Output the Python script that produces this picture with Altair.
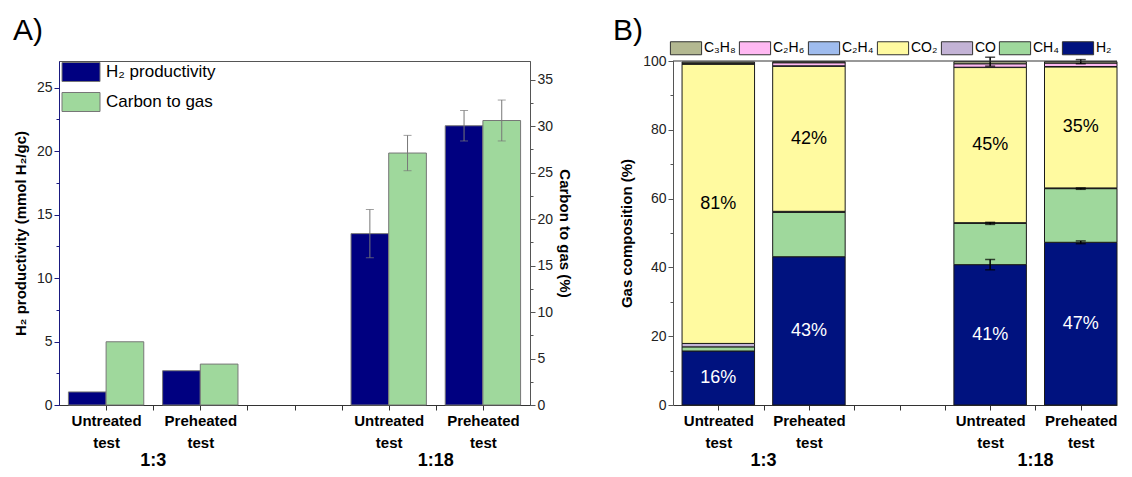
import json
import altair as alt
import pandas as pd

FONT = "Liberation Sans"

# ---------------- data ----------------
group_order = ["1:3", "1:18"]
samples = ["Untreated test", "Preheated test", "Untreated test", "Preheated test"]
groups = ["1:3", "1:3", "1:18", "1:18"]

# Panel A
series_names = ["H₂ productivity", "Carbon to gas"]
h2_prod = [1.03, 2.7, 13.5, 22.0]
h2_prod_err = [0.0, 0.0, 1.9, 1.2]
carbon_gas = [6.8, 4.4, 27.1, 30.6]
carbon_gas_err = [0.0, 0.0, 1.9, 2.2]

# Panel B (gas composition, %, bottom -> top)
gas_names = ["H₂", "CH₄", "CO", "CO₂", "C₂H₄", "C₂H₆", "C₃H₈"]
gas_h2 = [15.7, 43.1, 40.8, 47.3]
gas_ch4 = [1.2, 12.9, 12.0, 15.6]
gas_co = [1.0, 0.3, 0.2, 0.2]
gas_co2 = [81.2, 42.2, 45.1, 35.2]
gas_c2h4 = [0.1, 0.1, 0.1, 0.1]
gas_c2h6 = [0.2, 0.9, 1.0, 1.0]
gas_c3h8 = [0.3, 0.3, 0.6, 0.4]
err_h2 = [0.0, 0.0, 1.5, 0.4]
err_ch4 = [0.0, 0.0, 0.3, 0.2]
err_total = [0.0, 0.0, 1.3, 0.6]

gas_colors = {
    "H₂": "#00127f", "CH₄": "#9fd89c", "CO": "#c3b3d6", "CO₂": "#fffaa0",
    "C₂H₄": "#9fbcee", "C₂H₆": "#ffb8f2", "C₃H₈": "#b3b891",
}

# slot on the x axis (an empty slot separates the two ratio groups)
slots = [i + 1 + group_order.index(g) for i, g in enumerate(groups)]

# ---------------- frames ----------------
dfA = pd.DataFrame({
    "sample": samples, "group": groups, "slot": slots,
    "h2": h2_prod, "h2_err": h2_prod_err,
    "cg": carbon_gas, "cg_err": carbon_gas_err,
})

gas_values = [gas_h2, gas_ch4, gas_co, gas_co2, gas_c2h4, gas_c2h6, gas_c3h8]
rowsB = []
for i, s in enumerate(samples):
    for k, g in enumerate(gas_names):
        rowsB.append({"sample": s, "group": groups[i], "slot": slots[i],
                      "gas": g, "ord": k, "value": gas_values[k][i]})
dfB = pd.DataFrame(rowsB)

rowsE = []
for i in range(len(samples)):
    levels = [gas_h2[i], gas_h2[i] + gas_ch4[i],
              sum(gas_values[k][i] for k in range(len(gas_names)))]
    for lev, e in zip(levels, [err_h2[i], err_ch4[i], err_total[i]]):
        if e > 0:
            rowsE.append({"slot": slots[i], "lo": lev - e, "hi": lev + e})
dfE = pd.DataFrame(rowsE)

# ---------------- shared axis helpers ----------------
def label_expr():
    parts = []
    for s, p in zip(samples, slots):
        parts.append(f"datum.value == {p} ? {json.dumps(s.split(' '))}")
    return " : ".join(parts) + " : ''"

tick_vals = [1, 1.5, 2, 2.5, 3, 3.5, 4, 4.5, 5]

def x_axis():
    return alt.Axis(values=tick_vals, labelExpr=label_expr(), title=None, grid=False,
                    labelFont=FONT, labelFontSize=15, labelFontWeight="bold",
                    labelColor="#000", labelLineHeight=22, labelPadding=3,
                    tickSize=5, tickColor="#333", domainColor="#333",
                    labelOverlap=False, labelFlush=False)

H = 344
WA = 471
WB = 444

# ---------------- Panel A ----------------
xA = alt.Scale(domain=[0.5, 5.5], nice=False, zero=False)
yL = alt.Scale(domain=[0, 27.1], nice=False)
yR = alt.Scale(domain=[0, 37], nice=False)

left_axis = alt.Axis(title="H₂ productivity (mmol H₂/gᴄ)", values=[x * 2.5 for x in range(11)],
                     labelExpr="datum.value % 5 == 0 ? datum.label : ''",
                     tickSize={"condition": {"test": "datum.value % 5 == 0", "value": 5}, "value": 3},
                     grid=False, domainColor="#1a1a80", tickColor="#1a1a80",
                     labelFont=FONT, labelFontSize=14, labelColor="#222",
                     titleFont=FONT, titleFontSize=15, titleFontWeight="bold", titleColor="#000",
                     titlePadding=8)
right_axis = alt.Axis(title="Carbon to gas (%)", orient="right", values=[x * 2.5 for x in range(15)],
                      labelExpr="datum.value % 5 == 0 ? datum.label : ''",
                      tickSize={"condition": {"test": "datum.value % 5 == 0", "value": 5}, "value": 3},
                      grid=False, domainColor="#555", tickColor="#555",
                      labelFont=FONT, labelFontSize=14, labelColor="#222",
                      titleFont=FONT, titleFontSize=15, titleFontWeight="bold", titleColor="#000",
                      titlePadding=4)

colorA = alt.Scale(domain=series_names, range=["#000080", "#9fd89c"])
legendA = alt.Legend(title=None, orient="none", legendX=12, legendY=1,
                     symbolType="M-2,-1H2V1H-2Z", symbolSize=361,
                     symbolStrokeColor="#777", symbolStrokeWidth=1, symbolOpacity=1,
                     labelFont=FONT, labelFontSize=17, labelColor="#000",
                     labelOffset=15, rowPadding=6)

baseA = alt.Chart(dfA)
xenc = lambda f: alt.X(f, scale=xA, axis=x_axis())

bar_h2 = baseA.transform_calculate(
    x1="datum.slot - 0.4", x2="datum.slot", series=f"'{series_names[0]}'"
).mark_bar(stroke="#777", strokeWidth=1).encode(
    x=xenc("x1:Q"), x2="x2:Q",
    y=alt.Y("h2:Q", scale=yL, axis=left_axis), y2=alt.datum(0),
    color=alt.Color("series:N", scale=colorA, legend=legendA),
)
err_h2_a = baseA.transform_filter("datum.h2_err > 0").transform_calculate(
    xc="datum.slot - 0.2", lo="datum.h2 - datum.h2_err", hi="datum.h2 + datum.h2_err")
err_h2_rule = err_h2_a.mark_rule(color="#777", strokeWidth=1).encode(
    x=xenc("xc:Q"), y=alt.Y("lo:Q", scale=yL, axis=left_axis), y2="hi:Q")
err_h2_cap1 = err_h2_a.mark_tick(orient="horizontal", size=8, thickness=1, color="#777").encode(
    x=xenc("xc:Q"), y=alt.Y("lo:Q", scale=yL, axis=left_axis))
err_h2_cap2 = err_h2_a.mark_tick(orient="horizontal", size=8, thickness=1, color="#777").encode(
    x=xenc("xc:Q"), y=alt.Y("hi:Q", scale=yL, axis=left_axis))

group_text = baseA.transform_aggregate(center="mean(slot)", groupby=["group"]).mark_text(
    font=FONT, fontSize=18, fontWeight="bold", color="#000", baseline="alphabetic"
).encode(x=xenc("center:Q"), y=alt.value(H + 61), text="group:N")

title_A = baseA.transform_aggregate(n="count()").mark_text(
    font=FONT, fontSize=30, align="left", baseline="alphabetic", color="#000"
).encode(x=alt.value(-46), y=alt.value(-21), text=alt.value("A)"))

left_layer = alt.layer(bar_h2, err_h2_rule, err_h2_cap1, err_h2_cap2, group_text, title_A)

bar_cg = baseA.transform_calculate(
    x1="datum.slot", x2="datum.slot + 0.4", series=f"'{series_names[1]}'"
).mark_bar(stroke="#777", strokeWidth=1).encode(
    x=xenc("x1:Q"), x2="x2:Q",
    y=alt.Y("cg:Q", scale=yR, axis=right_axis), y2=alt.datum(0),
    color=alt.Color("series:N", scale=colorA, legend=legendA),
)
err_cg_a = baseA.transform_filter("datum.cg_err > 0").transform_calculate(
    xc="datum.slot + 0.2", lo="datum.cg - datum.cg_err", hi="datum.cg + datum.cg_err")
err_cg_rule = err_cg_a.mark_rule(color="#777", strokeWidth=1).encode(
    x=xenc("xc:Q"), y=alt.Y("lo:Q", scale=yR, axis=right_axis), y2="hi:Q")
err_cg_cap1 = err_cg_a.mark_tick(orient="horizontal", size=8, thickness=1, color="#777").encode(
    x=xenc("xc:Q"), y=alt.Y("lo:Q", scale=yR, axis=right_axis))
err_cg_cap2 = err_cg_a.mark_tick(orient="horizontal", size=8, thickness=1, color="#777").encode(
    x=xenc("xc:Q"), y=alt.Y("hi:Q", scale=yR, axis=right_axis))

right_layer = alt.layer(bar_cg, err_cg_rule, err_cg_cap1, err_cg_cap2)

panelA = alt.layer(left_layer, right_layer).resolve_scale(y="independent").properties(
    width=WA, height=H, view=alt.ViewBackground(stroke="#555", strokeWidth=1))

# ---------------- Panel B ----------------
xB = alt.Scale(domain=[0.5, 5.4], nice=False, zero=False)
yB = alt.Scale(domain=[0, 100], nice=False)
xencB = lambda f: alt.X(f, scale=xB, axis=x_axis())
yaxB = alt.Axis(title="Gas composition (%)", values=list(range(0, 101, 10)),
                labelExpr="datum.value % 20 == 0 ? datum.label : ''",
                tickSize={"condition": {"test": "datum.value % 20 == 0", "value": 5}, "value": 3},
                grid=False, domainColor="#555", tickColor="#555",
                labelFont=FONT, labelFontSize=14, labelColor="#222",
                titleFont=FONT, titleFontSize=15, titleFontWeight="bold", titleColor="#000",
                titlePadding=8)

legend_order = gas_names[::-1]
colorB = alt.Scale(domain=legend_order, range=[gas_colors[g] for g in legend_order])
legendB = alt.Legend(title=None, orient="none", legendX=6, legendY=-20, direction="horizontal",
                     columns=7, symbolType="M-2.4,-1H2.4V1H-2.4Z", symbolSize=169,
                     symbolStrokeColor="#333", symbolStrokeWidth=1, symbolOpacity=1,
                     labelFont=FONT, labelFontSize=14, labelColor="#000",
                     labelOffset=11, columnPadding=1)

stacked = alt.Chart(dfB).transform_stack(
    stack="value", groupby=["slot"], as_=["y0", "y1"],
    sort=[alt.SortField("ord", order="ascending")]
).transform_calculate(x1="datum.slot - 0.4", x2="datum.slot + 0.4",
                      mid="(datum.y0 + datum.y1) / 2")

bars_B = stacked.mark_bar(stroke="#1a1a1a", strokeWidth=1).encode(
    x=xencB("x1:Q"), x2="x2:Q",
    y=alt.Y("y0:Q", scale=yB, axis=yaxB), y2="y1:Q",
    color=alt.Color("gas:N", scale=colorB, legend=legendB),
)
label_gases = ["H₂", "CO₂"]
text_B = stacked.transform_filter(
    alt.FieldOneOfPredicate(field="gas", oneOf=label_gases)
).transform_calculate(lab="format(round(datum.value), 'd') + '%'").mark_text(
    font=FONT, fontSize=18, baseline="middle"
).encode(
    x=xencB("slot:Q"), y=alt.Y("mid:Q", scale=yB, axis=yaxB), text="lab:N",
    color=alt.condition(alt.datum.gas == "H₂", alt.value("#ffffff"), alt.value("#000000")),
)

baseE = alt.Chart(dfE)
errB_rule = baseE.mark_rule(color="#000", strokeWidth=1.5).encode(
    x=xencB("slot:Q"), y=alt.Y("lo:Q", scale=yB, axis=yaxB), y2="hi:Q")
errB_cap1 = baseE.mark_tick(orient="horizontal", size=10, thickness=1.5, color="#000").encode(
    x=xencB("slot:Q"), y=alt.Y("lo:Q", scale=yB, axis=yaxB))
errB_cap2 = baseE.mark_tick(orient="horizontal", size=10, thickness=1.5, color="#000").encode(
    x=xencB("slot:Q"), y=alt.Y("hi:Q", scale=yB, axis=yaxB))

top_rule = alt.Chart(dfA).transform_aggregate(n="count()").mark_rule(color="#333", strokeWidth=1).encode(
    x=alt.value(0), x2=alt.value(WB), y=alt.value(0))

group_text_B = alt.Chart(dfB).transform_aggregate(center="mean(slot)", groupby=["group"]).mark_text(
    font=FONT, fontSize=18, fontWeight="bold", color="#000", baseline="alphabetic"
).encode(x=xencB("center:Q"), y=alt.value(H + 61), text="group:N")

title_B = alt.Chart(dfA).transform_aggregate(n="count()").mark_text(
    font=FONT, fontSize=30, align="left", baseline="alphabetic", color="#000"
).encode(x=alt.value(-60), y=alt.value(-21), text=alt.value("B)"))

panelB = alt.layer(bars_B, text_B, errB_rule, errB_cap1, errB_cap2, top_rule,
                   group_text_B, title_B).properties(
    width=WB, height=H, view=alt.ViewBackground(stroke="transparent"))

chart = alt.hconcat(panelA, panelB, spacing=39).resolve_scale(color="independent").properties(
    padding={"left": 4, "right": 0, "top": 7, "bottom": 0}
).configure(font=FONT)

chart.save("out.html", embed_options={"renderer": "svg", "actions": False})
